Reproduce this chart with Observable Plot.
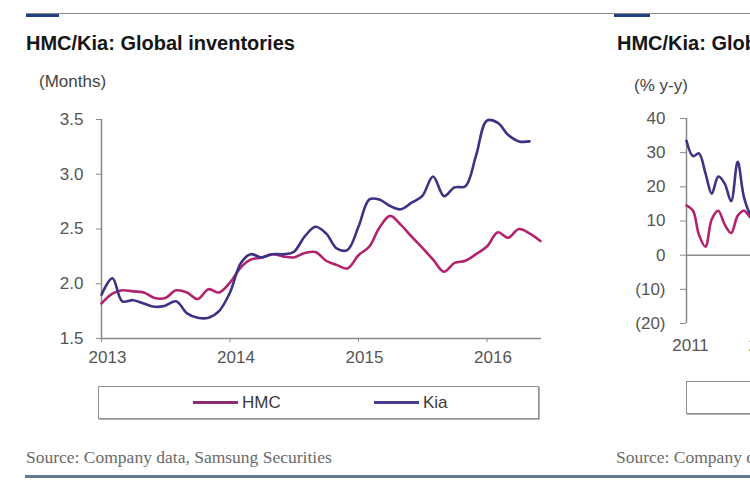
<!DOCTYPE html>
<html>
<head>
<meta charset="utf-8">
<script src="https://cdn.jsdelivr.net/npm/d3@7"></script>
<script src="https://cdn.jsdelivr.net/npm/@observablehq/plot@0.6"></script>
<style>
  html, body { margin: 0; padding: 0; background: #fff; }
  #page { position: relative; width: 750px; height: 495px; overflow: hidden; background: #fff;
          font-family: "Liberation Sans", Arial, sans-serif; }
  .abs { position: absolute; }
  .title { font-size: 20px; font-weight: bold; color: #161616; line-height: 20px; white-space: nowrap; }
  .unit { font-size: 17px; color: #444; line-height: 17px; white-space: nowrap; }
  .source { font-family: "Liberation Serif", "Times New Roman", serif; font-size: 17.5px; color: #6a6a6a;
            line-height: 18px; white-space: nowrap; }
  .legend { border: 1px solid #8f8f8f; box-shadow: 1px 1px 0 #b5b5b5; background: #fff; }
  .swatch { position: absolute; height: 3px; }
  .ltext { position: absolute; font-size: 17px; color: #3a3a3a; line-height: 17px; }
  #left svg, #right svg { max-width: none !important; }
</style>
</head>
<body>
<div id="page">
  <div class="abs" style="left:26px;top:13px;width:724px;height:1px;background:#8a8a8a"></div>
  <div class="abs" style="left:26px;top:14px;width:33px;height:3px;background:#22427f"></div>
  <div class="abs" style="left:614px;top:14px;width:36px;height:3px;background:#22427f"></div>

  <div class="abs title" style="left:26px;top:33px">HMC/Kia: Global inventories</div>
  <div class="abs unit" style="left:39px;top:73px">(Months)</div>
  <div class="abs title" style="left:617px;top:33px">HMC/Kia: Global inventory growth</div>
  <div class="abs unit" style="left:634px;top:77px">(% y-y)</div>

  <div id="left" class="abs" style="left:0;top:0;width:560px;height:370px"></div>
  <div id="right" class="abs" style="left:590px;top:0;width:540px;height:353px"></div>

  <div class="abs legend" style="left:98px;top:386px;width:439px;height:31px"></div>
  <div id="legLeft" class="abs" style="left:0;top:0"></div>
  <div class="abs legend" style="left:686px;top:381px;width:300px;height:31px"></div>

  <div class="abs source" style="left:26px;top:448px">Source: Company data, Samsung Securities</div>
  <div class="abs source" style="left:616px;top:448px">Source: Company data, Samsung Securities</div>
  <div class="abs" style="left:25px;top:475px;width:725px;height:3px;background:#637a8a"></div>
</div>
<script>
// ---------- data ----------
const seriesNames = ["HMC", "Kia"];
const seriesColors = ["#b3226f", "#3f3285"];

// Left chart: global inventories (months), monthly from Jan 2013
const invStart = [2013, 0];
const hmcInventory = [1.82,1.91,1.94,1.93,1.92,1.87,1.87,1.94,1.92,1.86,1.95,1.92,
                      2.01,2.15,2.22,2.24,2.27,2.25,2.24,2.28,2.29,2.21,2.17,2.14,
                      2.26,2.34,2.51,2.62,2.54,2.43,2.33,2.22,2.11,2.19,2.21,2.27,
                      2.34,2.47,2.42,2.50,2.46,2.39];
const kiaInventory = [1.90,2.05,1.84,1.85,1.82,1.79,1.80,1.84,1.73,1.69,1.69,1.75,
                      1.92,2.19,2.27,2.24,2.27,2.27,2.29,2.43,2.52,2.46,2.32,2.31,
                      2.52,2.77,2.77,2.71,2.68,2.74,2.80,2.98,2.80,2.88,2.89,3.17,
                      3.49,3.47,3.36,3.30,3.30];
const invYTicks = [1.5, 2.0, 2.5, 3.0, 3.5];
const invXTicks = [2013, 2014, 2015, 2016];

// Right chart: inventory growth (% y-y), monthly from Jan 2011 (visible part)
const growthStart = [2011, 0];
const hmcGrowth = [14.6, 13, 6, 2.5, 10.5, 13, 9, 6.5, 11.5, 13, 11, 10];
const kiaGrowth = [33.5, 29, 29.8, 24, 18, 23, 21, 15.8, 27.3, 17, 12, 11];
const growthYTicks = [-20, -10, 0, 10, 20, 30, 40];
const growthXTicks = [2011, 2012, 2013, 2014, 2015, 2016];

// ---------- helpers ----------
const ymd = (y, m, d = 1) => new Date(Date.UTC(y, m, d));
function toRows(start, values, name) {
  const s = ymd(start[0], start[1]);
  return values.map((v, i) => ({date: d3.utcMonth.offset(s, i), value: v, series: name}));
}
const font = "'Liberation Sans', Arial, sans-serif";
const tickText = "#555";
const axisGrey = "#8a8a8a";
const color = {domain: seriesNames, range: seriesColors};

// ---------- left chart ----------
const invRows = [...toRows(invStart, hmcInventory, "HMC"), ...toRows(invStart, kiaInventory, "Kia")];
const invX0 = ymd(2013, 0);
const leftPlot = Plot.plot({
  width: 560, height: 370,
  marginLeft: 101, marginRight: 19, marginTop: 119, marginBottom: 32,
  style: {fontFamily: font, background: "transparent", overflow: "visible", maxWidth: "none"},
  x: {type: "utc", domain: [invX0, ymd(2016, 5, 4)]},
  y: {domain: [1.5, 3.5]},
  color,
  marks: [
    Plot.axisY({ticks: invYTicks, tickFormat: d => d.toFixed(1), tickSize: 5, tickPadding: 13,
                fontSize: 17, fill: tickText, stroke: axisGrey, label: null}),
    Plot.axisX({ticks: invXTicks.map(y => ymd(y, 0)), tickFormat: () => "", tickSize: 4,
                stroke: axisGrey, label: null}),
    Plot.axisX({ticks: invXTicks.map(y => ymd(y, 0)), tickFormat: d => String(d.getUTCFullYear()),
                tickSize: 0, tickPadding: 12, dx: 6, fontSize: 17, fill: tickText, label: null}),
    Plot.ruleX([invX0], {y1: 1.5, y2: 3.5, stroke: axisGrey, strokeWidth: 1.5}),
    Plot.ruleY([1.5], {stroke: axisGrey, strokeWidth: 1.5}),
    Plot.line(invRows, {x: "date", y: "value", z: "series", stroke: "series",
                        curve: "catmull-rom", strokeWidth: 2.6})
  ]
});
document.getElementById("left").appendChild(leftPlot);

// ---------- right chart ----------
const grRows = [...toRows(growthStart, hmcGrowth, "HMC"), ...toRows(growthStart, kiaGrowth, "Kia")];
const grX0 = ymd(2011, 0);
const rightPlot = Plot.plot({
  width: 540, height: 353,
  marginLeft: 96, marginRight: 27, marginTop: 118, marginBottom: 30,
  style: {fontFamily: font, background: "transparent", overflow: "visible", maxWidth: "none"},
  x: {type: "utc", domain: [grX0, ymd(2016, 5, 4)]},
  y: {domain: [-20, 40]},
  color,
  marks: [
    Plot.axisY({ticks: growthYTicks, tickFormat: d => d < 0 ? `(${-d})` : `${d}`, tickSize: 6,
                tickPadding: 15, fontSize: 17, fill: tickText, stroke: axisGrey, label: null}),
    Plot.axisX({ticks: growthXTicks.map(y => ymd(y, 0)), tickFormat: d => String(d.getUTCFullYear()),
                tickSize: 0, tickPadding: 15, dx: 4, fontSize: 17, fill: tickText, label: null}),
    Plot.ruleX([grX0], {y1: -20, y2: 40, stroke: axisGrey, strokeWidth: 1.5}),
    Plot.ruleY([0], {stroke: axisGrey, strokeWidth: 1.5}),
    Plot.line(grRows, {x: "date", y: "value", z: "series", stroke: "series",
                       curve: "catmull-rom", strokeWidth: 2.6})
  ]
});
document.getElementById("right").appendChild(rightPlot);

// ---------- legend (left) ----------
const legLeft = document.getElementById("legLeft");
const legendPos = [{x: 193, tx: 242}, {x: 374, tx: 423}];
seriesNames.forEach((name, i) => {
  const sw = document.createElement("div");
  sw.className = "swatch";
  sw.style.left = legendPos[i].x + "px";
  sw.style.top = "401px";
  sw.style.width = "45px";
  sw.style.background = i === 0 ? "#8e2b6c" : "#4a3c8c";
  legLeft.appendChild(sw);
  const t = document.createElement("div");
  t.className = "ltext";
  t.style.left = legendPos[i].tx + "px";
  t.style.top = "394px";
  t.textContent = name;
  legLeft.appendChild(t);
});
</script>
</body>
</html>
